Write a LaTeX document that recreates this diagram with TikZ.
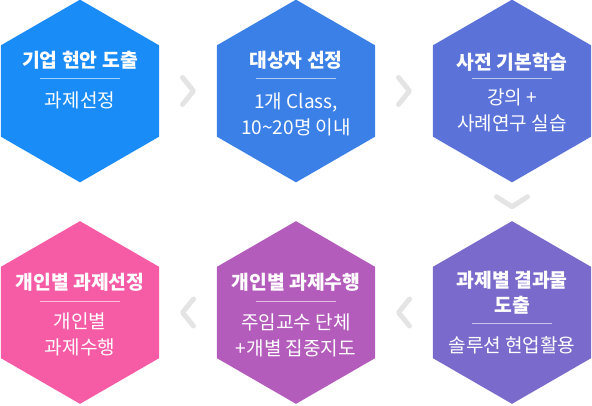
\documentclass[tikz,border=0pt]{standalone}
\usepackage{fontspec}
\newfontfamily\krfont{Noto Sans CJK KR}
\usetikzlibrary{shapes.geometric,calc}
\definecolor{stepA}{HTML}{1A8CF7}
\definecolor{stepB}{HTML}{3B80E6}
\definecolor{stepC}{HTML}{5B73D8}
\definecolor{stepD}{HTML}{7A6ACB}
\definecolor{stepE}{HTML}{B45CBC}
\definecolor{stepF}{HTML}{F65BA6}
\definecolor{chevgray}{HTML}{E4E4E4}
\begin{document}
\begin{tikzpicture}[x=0.75pt,y=-0.75pt,
    hexa/.style={regular polygon,regular polygon sides=6,regular polygon rotate=30,
        minimum size=137pt,inner sep=0pt,draw=none},
    ttl/.style={text=white,inner sep=0pt,align=center,
        font=\krfont\bfseries\fontsize{14.5}{18.75}\selectfont},
    sub/.style={text=white,inner sep=0pt,align=center,
        font=\krfont\fontsize{14.3}{19.5}\selectfont},
    sepline/.style={white,opacity=0.6,line width=0.75pt},
    chev/.style={draw=chevgray,line width=3.75pt,line cap=round,line join=round}]
    \useasboundingbox (0,0) rectangle (592,406);
    %% six hexagons
    \node[hexa,fill=stepA] (h1) at (80,91) {};
    \node[hexa,fill=stepB] (h2) at (296,91) {};
    \node[hexa,fill=stepC] (h3) at (512,91) {};
    \node[hexa,fill=stepD] (h4) at (512,312.5) {};
    \node[hexa,fill=stepE] (h5) at (296,312.5) {};
    \node[hexa,fill=stepF] (h6) at (80,312.5) {};
    %% titles
    \node[ttl] (t1) at (80,60) {기업 현안 도출};
    \node[ttl] (t2) at (296,60) {대상자 선정};
    \node[ttl] (t3) at (512,62) {사전 기본학습};
    \node[ttl] (t4) at (512,292.5) {과제별 결과물\\도출};
    \node[ttl] (t5) at (296,282) {개인별 과제수행};
    \node[ttl] (t6) at (80,282) {개인별 과제선정};
    %% separators
    \draw[sepline] (40,79) -- (120,79);
    \draw[sepline] (256,79) -- (336,79);
    \draw[sepline] (472,79) -- (552,79);
    \draw[sepline] (472,323) -- (552,323);
    \draw[sepline] (256,301) -- (336,301);
    \draw[sepline] (40,301) -- (120,301);
    %% texts
    \node[sub] (s1) at (80,100) {과제선정};
    \node[sub] (s2) at (296,114) {1개 Class,\\10\textasciitilde20명 이내};
    \node[sub] (s3) at (512,110.5) {강의 +\\사례연구 실습};
    \node[sub] (s4) at (512,345) {솔루션 현업활용};
    \node[sub] (s5) at (296,335) {주임교수 단체\\+개별 집중지도};
    \node[sub] (s6) at (80,334.5) {개인별\\과제수행};
    %% arrows
    \draw[chev] ($(h1.east)!0.5!(h2.west)$) ++(-5.5,-13.5) -- ++(11,13.5) -- ++(-11,13.5);
    \draw[chev] ($(h2.east)!0.5!(h3.west)$) ++(-5.5,-13.5) -- ++(11,13.5) -- ++(-11,13.5);
    \draw[chev] ($(h3.south)!0.5!(h4.north)$) ++(-15.5,-5) -- ++(15.5,10) -- ++(15.5,-10);
    \draw[chev] ($(h5.east)!0.5!(h4.west)$) ++(5.5,-13.5) -- ++(-11,13.5) -- ++(11,13.5);
    \draw[chev] ($(h6.east)!0.5!(h5.west)$) ++(5.5,-13.5) -- ++(-11,13.5) -- ++(11,13.5);
\end{tikzpicture}
\end{document}
